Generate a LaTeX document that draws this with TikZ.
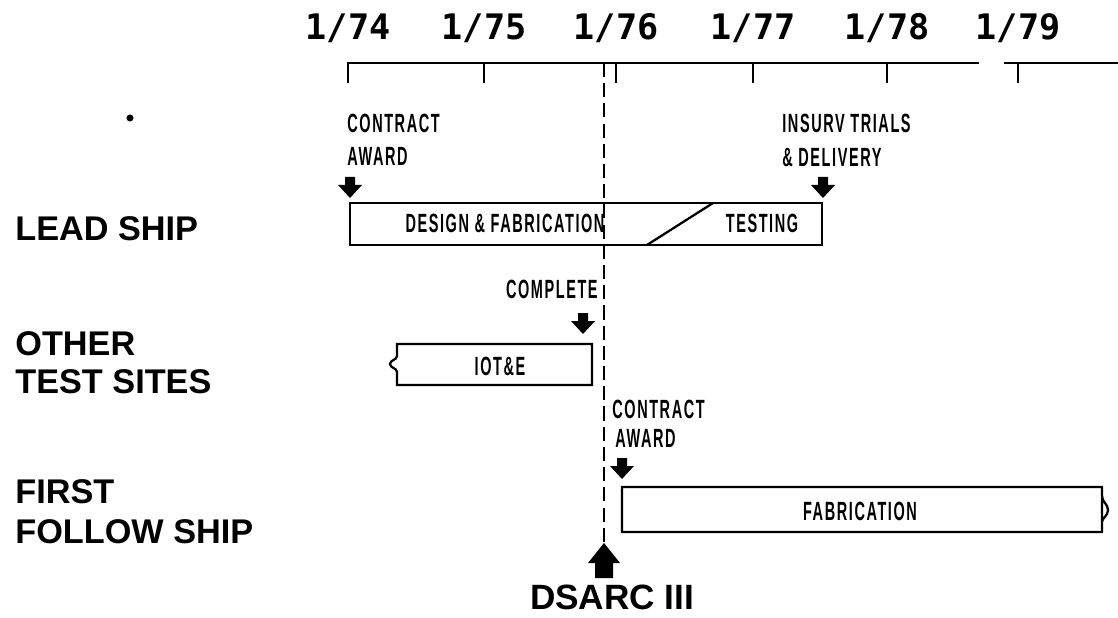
\documentclass[tikz,border=0pt]{standalone}
\usepackage{fontspec}
\setmainfont{Liberation Sans}
\newfontfamily\yearfont{DejaVu Sans Mono}
\newfontfamily\narrowfont[FakeStretch=0.55, LetterSpace=6]{Liberation Sans}
\usepackage{tikz}
\usetikzlibrary{positioning}

\tikzset{
  axisline/.style={line width=1.1pt},
  bar/.style={line width=1.3pt, line join=miter},
  milestone/.style={line width=1.1pt, dash pattern=on 8pt off 3.5pt},
  yearlabel/.style={anchor=base, inner sep=0pt, font=\yearfont\bfseries\fontsize{20}{24}\selectfont},
  rowlabel/.style={anchor=base west, inner sep=0pt, font=\bfseries\fontsize{19.5}{22}\selectfont},
  smalllabel/.style={inner sep=0pt, font=\narrowfont\bfseries\fontsize{15}{18}\selectfont},
  downmark/.pic={\fill (-5,0) -- (5,0) -- (5,8) -- (12,8) -- (0,21) -- (-12,8) -- (-5,8) -- cycle;},
  upmark/.pic={\fill (0,0) -- (16,20) -- (9,20) -- (9,35) -- (-9,35) -- (-9,20) -- (-16,20) -- cycle;}
}

\begin{document}
\begin{tikzpicture}[x=0.02cm, y=-0.02cm]
  \useasboundingbox (0,0) rectangle (1118,618);

  % time axis
  \draw[axisline] (348,83) -- (348,63) -- (979,63);
  \draw[axisline] (1004,63) -- (1118,63);
  \foreach \x/\yr in {348/74, 484/75, 616/76, 753/77, 887/78, 1018/79} {
    \draw[axisline] (\x,63) -- (\x,83);
    \node[yearlabel] (yr\yr) at (\x,40) {1/\yr};
  }

  % stray mark
  \fill (130,118) circle (2pt);

  % row labels
  \node[rowlabel] (lead) at (15,240) {LEAD SHIP};
  \node[rowlabel] (other) at (15,355) {OTHER};
  \node[rowlabel] (sites) at (15,393) {TEST SITES};
  \node[rowlabel] (first) at (15,503) {FIRST};
  \node[rowlabel] (follow) at (15,543) {FOLLOW SHIP};

  % lead ship
  \node[smalllabel, anchor=base west] (award1a) at (347,133) {CONTRACT};
  \node[smalllabel, anchor=base west] (award1b) at (347,166) {AWARD};
  \pic at (350,177) {downmark};
  \node[smalllabel, anchor=base west] (insurv) at (782,133) {INSURV TRIALS};
  \node[smalllabel, anchor=base west] (deliv) at (782,167) {\& DELIVERY};
  \pic at (823,177) {downmark};
  \draw[bar] (350,203) rectangle (822,245);
  \draw[bar] (647,245) -- (713,203);
  \node[smalllabel, anchor=base] (design) at (505,233) {DESIGN \& FABRICATION};
  \node[smalllabel, anchor=base] (testing) at (762,233) {TESTING};

  % other test sites
  \node[smalllabel, anchor=base east] (complete) at (598,298) {COMPLETE};
  \pic at (583,313) {downmark};
  \draw[bar] (397,356) -- (397,344) -- (592,344) -- (592,385) -- (397,385) -- (397,372)
    .. controls (397,368) and (390,368) .. (390,364)
    .. controls (390,360) and (397,360) .. (397,356);
  \node[smalllabel, anchor=base] (iote) at (500,375) {IOT\&E};

  % first follow ship
  \node[smalllabel, anchor=base west] (award2a) at (612,418) {CONTRACT};
  \node[smalllabel, anchor=base west] (award2b) at (615,447) {AWARD};
  \pic at (622,458) {downmark};
  \draw[bar] (1102,498) -- (1102,532) -- (622,532) -- (622,487) -- (1102,487) -- (1102,496)
    .. controls (1102,502) and (1108,504) .. (1108,510)
    .. controls (1108,516) and (1102,518) .. (1102,522) -- (1102,532);
  \node[smalllabel, anchor=base] (fabr) at (860,520) {FABRICATION};

  % DSARC III milestone
  \draw[milestone] (604,63) -- (604,545);
  \pic at (604,543) {upmark};
  \node[anchor=base, inner sep=0pt, font=\bfseries\fontsize{20}{24}\selectfont] (dsarc) at (612,609) {DSARC III};
\end{tikzpicture}
\end{document}
